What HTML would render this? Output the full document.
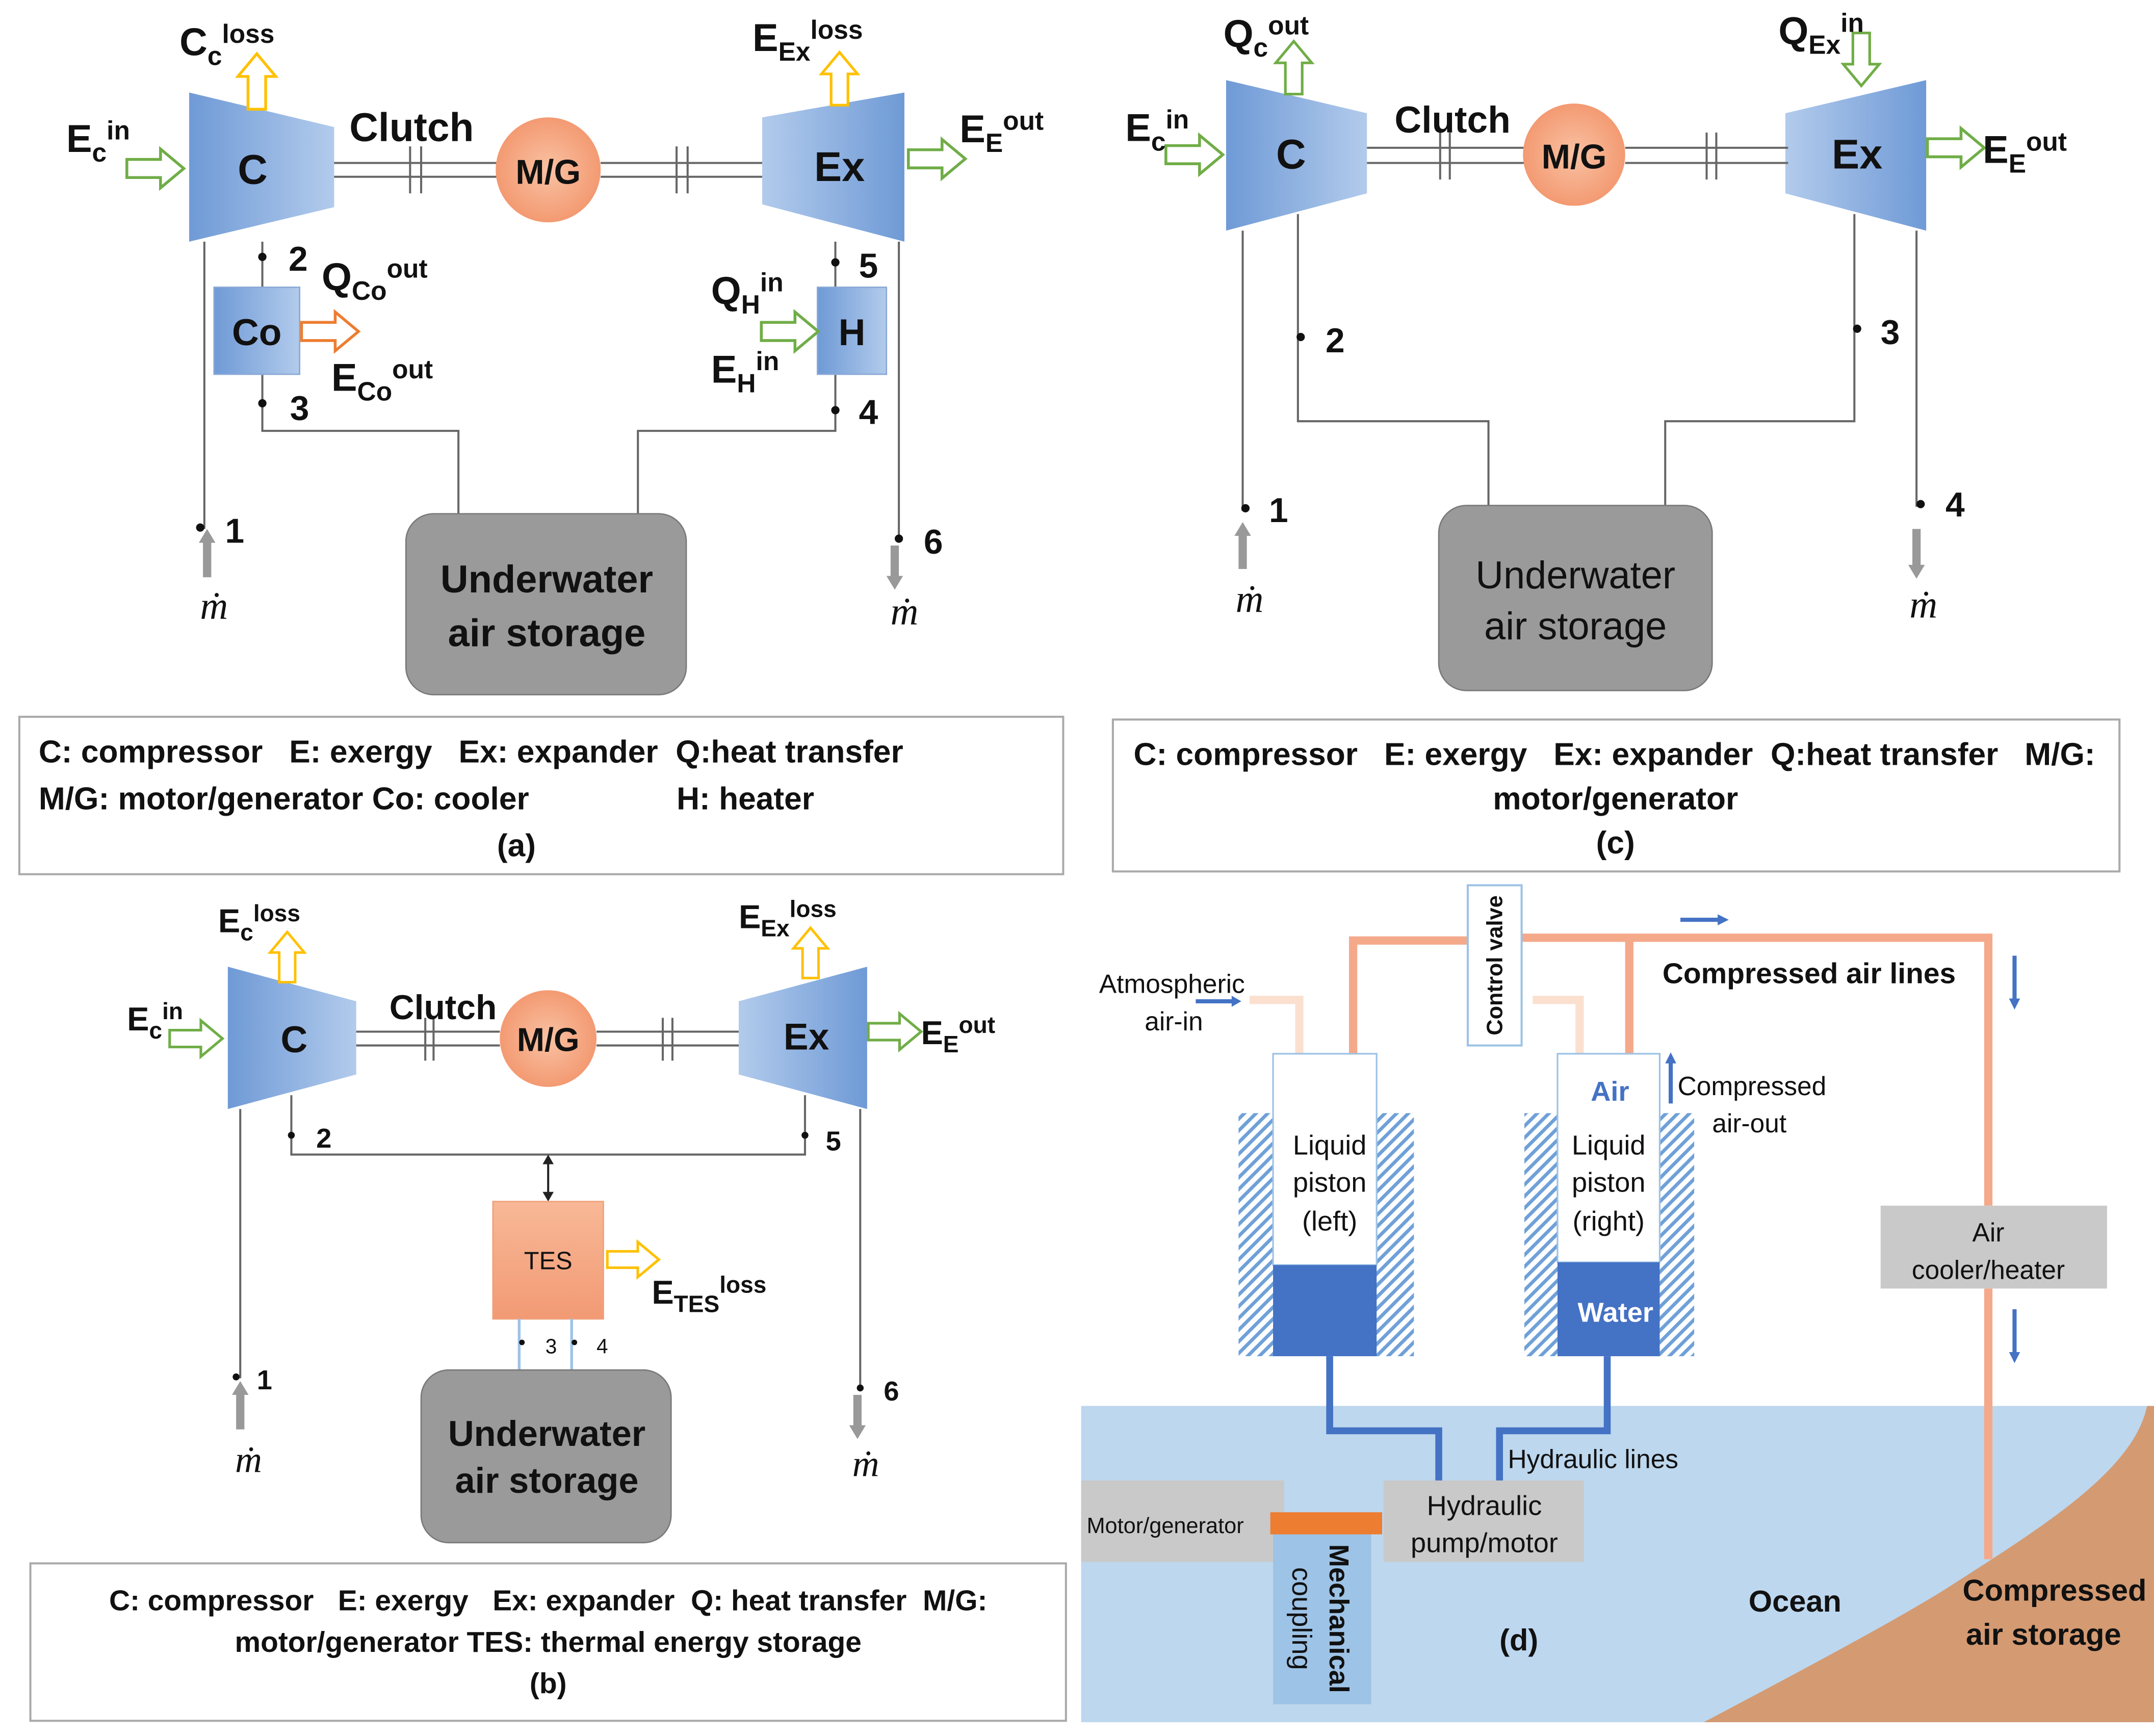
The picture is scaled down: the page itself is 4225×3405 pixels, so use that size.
<!DOCTYPE html>
<html><head><meta charset="utf-8"><style>
html,body{margin:0;padding:0;background:#fff}
svg{display:block}
text{font-family:"Liberation Sans",sans-serif;fill:#111;white-space:pre}
.b{font-weight:bold}
</style></head><body>
<svg width="4225" height="3405" viewBox="0 0 1560 1257" preserveAspectRatio="none" xmlns="http://www.w3.org/2000/svg">
<defs>
<linearGradient id="gb" x1="0" x2="1" y1="0" y2="0"><stop offset="0" stop-color="#6f9ad6"/><stop offset="1" stop-color="#b2cbec"/></linearGradient>
<linearGradient id="gb2" x1="1" x2="0" y1="0" y2="0"><stop offset="0" stop-color="#6f9ad6"/><stop offset="1" stop-color="#b2cbec"/></linearGradient>
<radialGradient id="go"><stop offset="0" stop-color="#f9c2a3"/><stop offset="1" stop-color="#f39a72"/></radialGradient>
<linearGradient id="gt" x1="0" x2="0" y1="0" y2="1"><stop offset="0" stop-color="#f8b896"/><stop offset="1" stop-color="#f29a74"/></linearGradient>
<pattern id="hatch" width="6" height="6" patternUnits="userSpaceOnUse" patternTransform="rotate(45)"><rect width="6" height="6" fill="#fff"/><rect width="2.5" height="6" fill="#6fa0d8"/></pattern>
<symbol id="ar" viewBox="0 -16 46 32" overflow="visible"><path d="M1,-7 H27 V-15 L45,0 L27,15 V7 H1 Z" fill="#fff" stroke-width="2.2"/></symbol>
</defs>

<!-- ============ PANEL A ============ -->
<g>
<polygon points="137,67 242,92 242,150 137,175" fill="url(#gb)"/>
<polygon points="552,85 655,67 655,175 552,148" fill="url(#gb2)"/>
<text x="183" y="133" font-size="30" class="b" text-anchor="middle">C</text>
<text x="608" y="131" font-size="30" class="b" text-anchor="middle">Ex</text>
<g stroke="#666" stroke-width="1.5" fill="none">
<line x1="242" y1="118" x2="360" y2="118"/><line x1="242" y1="128" x2="360" y2="128"/>
<line x1="435" y1="118" x2="552" y2="118"/><line x1="435" y1="128" x2="552" y2="128"/>
<line x1="297" y1="106" x2="297" y2="140"/><line x1="305" y1="106" x2="305" y2="140"/>
<line x1="490" y1="106" x2="490" y2="140"/><line x1="498" y1="106" x2="498" y2="140"/>
<polyline points="190,175 190,208"/><polyline points="190,271 190,312 332,312 332,372"/>
<line x1="148" y1="175" x2="148" y2="383"/>
<polyline points="605,175 605,208"/><polyline points="605,271 605,312 462,312 462,372"/>
<line x1="651" y1="175" x2="651" y2="392"/>
</g>
<circle cx="397" cy="123" r="38" fill="url(#go)"/>
<text x="397" y="133" font-size="25" class="b" text-anchor="middle">M/G</text>
<text x="253" y="102" font-size="29" class="b">Clutch</text>
<rect x="155" y="208" width="62" height="63" fill="url(#gb)" stroke="#8aa9d6"/>
<text x="186" y="250" font-size="27" class="b" text-anchor="middle">Co</text>
<rect x="592" y="208" width="50" height="63" fill="url(#gb)" stroke="#8aa9d6"/>
<text x="617" y="250" font-size="27" class="b" text-anchor="middle">H</text>
<use href="#ar" x="217" y="225" width="44" height="30" stroke="#ed7d31"/>
<use href="#ar" x="550" y="225" width="44" height="30" stroke="#70ad47"/>
<use href="#ar" x="90" y="107" width="45" height="30" stroke="#70ad47"/>
<use href="#ar" x="656" y="100" width="45" height="30" stroke="#70ad47"/>
<use href="#ar" x="0" y="0" width="42" height="30" stroke="#ffc000" transform="translate(171,80) rotate(-90)"/>
<use href="#ar" x="0" y="0" width="40" height="30" stroke="#ffc000" transform="translate(593,77) rotate(-90)"/>
<text x="130" y="40" font-size="28" class="b">C<tspan font-size="19" dy="7">c</tspan><tspan font-size="19" dy="-16">loss</tspan></text>
<text x="545" y="37" font-size="28" class="b">E<tspan font-size="19" dy="7">Ex</tspan><tspan font-size="19" dy="-16">loss</tspan></text>
<text x="48" y="110" font-size="28" class="b">E<tspan font-size="19" dy="7">c</tspan><tspan font-size="19" dy="-16">in</tspan></text>
<text x="695" y="103" font-size="28" class="b">E<tspan font-size="19" dy="7">E</tspan><tspan font-size="19" dy="-16">out</tspan></text>
<text x="233" y="210" font-size="28" class="b">Q<tspan font-size="19" dy="7">Co</tspan><tspan font-size="19" dy="-16">out</tspan></text>
<text x="240" y="283" font-size="28" class="b">E<tspan font-size="19" dy="7">Co</tspan><tspan font-size="19" dy="-16">out</tspan></text>
<text x="515" y="220" font-size="28" class="b">Q<tspan font-size="19" dy="7">H</tspan><tspan font-size="19" dy="-16">in</tspan></text>
<text x="515" y="277" font-size="28" class="b">E<tspan font-size="19" dy="7">H</tspan><tspan font-size="19" dy="-16">in</tspan></text>
<g fill="#111"><circle cx="190" cy="186" r="3"/><circle cx="190" cy="292" r="3"/><circle cx="145" cy="382" r="3"/><circle cx="605" cy="190" r="3"/><circle cx="605" cy="297" r="3"/><circle cx="651" cy="390" r="3"/></g>
<g font-size="25" class="b"><text x="209" y="196">2</text><text x="210" y="304">3</text><text x="163" y="393">1</text><text x="622" y="201">5</text><text x="622" y="307">4</text><text x="669" y="401">6</text></g>
<path d="M147,418 V393 H144 L150,383 L156,393 H153 V418 Z" fill="#999"/>
<path d="M645,395 V417 H642 L648,427 L654,417 H651 V395 Z" fill="#999"/>
<text x="155" y="448" font-size="28" font-style="italic" text-anchor="middle" style="font-family:'Liberation Serif',serif">ṁ</text>
<text x="655" y="452" font-size="28" font-style="italic" text-anchor="middle" style="font-family:'Liberation Serif',serif">ṁ</text>
<rect x="294" y="372" width="203" height="131" rx="20" fill="#9a9a9a" stroke="#7a7a7a"/>
<text x="396" y="429" font-size="28" class="b" text-anchor="middle">Underwater</text>
<text x="396" y="468" font-size="28" class="b" text-anchor="middle">air storage</text>
<rect x="14" y="519" width="756" height="114" fill="none" stroke="#aaa" stroke-width="1.5"/>
<g font-size="23" class="b"><text x="28" y="552">C: compressor   E: exergy   Ex: expander  Q:heat transfer</text>
<text x="28" y="586">M/G: motor/generator Co: cooler</text><text x="490" y="586">H: heater</text>
<text x="374" y="620" text-anchor="middle">(a)</text></g>
</g>

<!-- ============ PANEL C ============ -->
<g>
<polygon points="888,58 990,82 990,140 888,167" fill="url(#gb)"/>
<polygon points="1293,82 1395,58 1395,167 1293,140" fill="url(#gb2)"/>
<text x="935" y="122" font-size="30" class="b" text-anchor="middle">C</text>
<text x="1345" y="122" font-size="30" class="b" text-anchor="middle">Ex</text>
<g stroke="#666" stroke-width="1.5" fill="none">
<line x1="990" y1="107" x2="1105" y2="107"/><line x1="990" y1="118" x2="1105" y2="118"/>
<line x1="1177" y1="107" x2="1295" y2="107"/><line x1="1177" y1="118" x2="1295" y2="118"/>
<line x1="1043" y1="96" x2="1043" y2="130"/><line x1="1050" y1="96" x2="1050" y2="130"/>
<line x1="1236" y1="96" x2="1236" y2="130"/><line x1="1243" y1="96" x2="1243" y2="130"/>
<polyline points="940,155 940,305 1078,305 1078,367"/>
<line x1="900" y1="167" x2="900" y2="370"/>
<polyline points="1343,155 1343,305 1206,305 1206,367"/>
<line x1="1388" y1="167" x2="1388" y2="367"/>
</g>
<circle cx="1140" cy="112" r="37" fill="url(#go)"/>
<text x="1140" y="122" font-size="25" class="b" text-anchor="middle">M/G</text>
<text x="1010" y="96" font-size="27" class="b">Clutch</text>
<use href="#ar" x="843" y="97" width="44" height="30" stroke="#70ad47"/>
<use href="#ar" x="1395" y="92" width="43" height="30" stroke="#70ad47"/>
<use href="#ar" x="0" y="0" width="40" height="30" stroke="#70ad47" transform="translate(922,69) rotate(-90)"/>
<use href="#ar" x="0" y="0" width="40" height="30" stroke="#70ad47" transform="translate(1363,23) rotate(90)"/>
<text x="886" y="34" font-size="28" class="b">Q<tspan font-size="19" dy="7">c</tspan><tspan font-size="19" dy="-16">out</tspan></text>
<text x="1288" y="32" font-size="28" class="b">Q<tspan font-size="19" dy="7">Ex</tspan><tspan font-size="19" dy="-16">in</tspan></text>
<text x="815" y="102" font-size="28" class="b">E<tspan font-size="19" dy="7">c</tspan><tspan font-size="19" dy="-16">in</tspan></text>
<text x="1436" y="118" font-size="28" class="b">E<tspan font-size="19" dy="7">E</tspan><tspan font-size="19" dy="-16">out</tspan></text>
<g fill="#111"><circle cx="942" cy="244" r="3"/><circle cx="902" cy="368" r="3"/><circle cx="1345" cy="238" r="3"/><circle cx="1391" cy="365" r="3"/></g>
<g font-size="25" class="b"><text x="960" y="255">2</text><text x="919" y="378">1</text><text x="1362" y="249">3</text><text x="1409" y="374">4</text></g>
<path d="M897,412 V388 H894 L900,378 L906,388 H903 V412 Z" fill="#999"/>
<path d="M1385,383 V409 H1382 L1388,419 L1394,409 H1391 V383 Z" fill="#999"/>
<text x="905" y="443" font-size="28" font-style="italic" text-anchor="middle" style="font-family:'Liberation Serif',serif">ṁ</text>
<text x="1393" y="447" font-size="28" font-style="italic" text-anchor="middle" style="font-family:'Liberation Serif',serif">ṁ</text>
<rect x="1042" y="366" width="198" height="134" rx="20" fill="#9a9a9a" stroke="#7a7a7a"/>
<text x="1141" y="426" font-size="28" text-anchor="middle">Underwater</text>
<text x="1141" y="463" font-size="28" text-anchor="middle">air storage</text>
<rect x="806" y="521" width="729" height="110" fill="none" stroke="#aaa" stroke-width="1.5"/>
<g font-size="23" class="b"><text x="821" y="554">C: compressor   E: exergy   Ex: expander  Q:heat transfer   M/G:</text>
<text x="1170" y="586" text-anchor="middle">motor/generator</text>
<text x="1170" y="618" text-anchor="middle">(c)</text></g>
</g>

<!-- ============ PANEL B ============ -->
<g>
<polygon points="165,700 258,725 258,778 165,803" fill="url(#gb)"/>
<polygon points="535,725 628,700 628,803 535,778" fill="url(#gb2)"/>
<text x="213" y="762" font-size="27" class="b" text-anchor="middle">C</text>
<text x="584" y="760" font-size="27" class="b" text-anchor="middle">Ex</text>
<g stroke="#666" stroke-width="1.5" fill="none">
<line x1="258" y1="747" x2="362" y2="747"/><line x1="258" y1="757" x2="362" y2="757"/>
<line x1="432" y1="747" x2="535" y2="747"/><line x1="432" y1="757" x2="535" y2="757"/>
<line x1="308" y1="737" x2="308" y2="768"/><line x1="314" y1="737" x2="314" y2="768"/>
<line x1="480" y1="737" x2="480" y2="768"/><line x1="487" y1="737" x2="487" y2="768"/>
<polyline points="211,793 211,836 583,836 583,793"/>
<line x1="174" y1="803" x2="174" y2="998"/>
<line x1="623" y1="803" x2="623" y2="1005"/>
</g>
<line x1="397" y1="840" x2="397" y2="866" stroke="#222" stroke-width="1.5"/>
<path d="M393,843 L397,836 L401,843 Z M393,863 L397,870 L401,863 Z" fill="#222"/>
<circle cx="397" cy="752" r="35" fill="url(#go)"/>
<text x="397" y="761" font-size="24" class="b" text-anchor="middle">M/G</text>
<text x="282" y="738" font-size="25" class="b">Clutch</text>
<rect x="357" y="870" width="80" height="85" fill="url(#gt)" stroke="#f0a07a"/>
<text x="397" y="919" font-size="18" text-anchor="middle">TES</text>
<use href="#ar" x="439" y="898" width="39" height="28" stroke="#ffc000"/>
<use href="#ar" x="122" y="738" width="40" height="28" stroke="#70ad47"/>
<use href="#ar" x="628" y="733" width="40" height="28" stroke="#70ad47"/>
<use href="#ar" x="0" y="0" width="38" height="28" stroke="#ffc000" transform="translate(194,712) rotate(-90)"/>
<use href="#ar" x="0" y="0" width="38" height="28" stroke="#ffc000" transform="translate(573,709) rotate(-90)"/>
<text x="158" y="675" font-size="24" class="b">E<tspan font-size="17" dy="6">c</tspan><tspan font-size="17" dy="-14">loss</tspan></text>
<text x="535" y="672" font-size="24" class="b">E<tspan font-size="17" dy="6">Ex</tspan><tspan font-size="17" dy="-14">loss</tspan></text>
<text x="92" y="746" font-size="24" class="b">E<tspan font-size="17" dy="6">c</tspan><tspan font-size="17" dy="-14">in</tspan></text>
<text x="667" y="756" font-size="24" class="b">E<tspan font-size="17" dy="6">E</tspan><tspan font-size="17" dy="-14">out</tspan></text>
<text x="472" y="944" font-size="24" class="b">E<tspan font-size="17" dy="6">TES</tspan><tspan font-size="17" dy="-14">loss</tspan></text>
<g stroke="#9dc3e6" stroke-width="2"><line x1="376" y1="955" x2="376" y2="992"/><line x1="414" y1="955" x2="414" y2="992"/></g>
<g fill="#111"><circle cx="211" cy="822" r="2.5"/><circle cx="583" cy="822" r="2.5"/><circle cx="378" cy="972" r="2"/><circle cx="416" cy="972" r="2"/><circle cx="171" cy="997" r="2.5"/><circle cx="623" cy="1005" r="2.5"/></g>
<g font-size="20" class="b"><text x="229" y="831">2</text><text x="598" y="833">5</text><text x="186" y="1006">1</text><text x="640" y="1014">6</text></g>
<g font-size="15"><text x="395" y="980">3</text><text x="432" y="980">4</text></g>
<path d="M171,1035 V1010 H168 L174,1000 L180,1010 H177 V1035 Z" fill="#999"/>
<path d="M618,1010 V1032 H615 L621,1042 L627,1032 H624 V1010 Z" fill="#999"/>
<text x="180" y="1066" font-size="27" font-style="italic" text-anchor="middle" style="font-family:'Liberation Serif',serif">ṁ</text>
<text x="627" y="1069" font-size="27" font-style="italic" text-anchor="middle" style="font-family:'Liberation Serif',serif">ṁ</text>
<rect x="305" y="992" width="181" height="125" rx="20" fill="#9a9a9a" stroke="#7a7a7a"/>
<text x="396" y="1047" font-size="26" class="b" text-anchor="middle">Underwater</text>
<text x="396" y="1081" font-size="26" class="b" text-anchor="middle">air storage</text>
<rect x="22" y="1132" width="750" height="114" fill="none" stroke="#aaa" stroke-width="1.5"/>
<g font-size="21" class="b" text-anchor="middle"><text x="397" y="1166">C: compressor   E: exergy   Ex: expander  Q: heat transfer  M/G:</text>
<text x="397" y="1196">motor/generator TES: thermal energy storage</text>
<text x="397" y="1226">(b)</text></g>
</g>

<!-- ============ PANEL D ============ -->
<g>
<rect x="783" y="1018" width="777" height="229" fill="#bdd7ee"/>
<path d="M1234,1247 C1300,1212 1370,1175 1410,1150 C1480,1105 1545,1065 1555,1018 L1560,1018 L1560,1247 Z" fill="#d49a72"/>
<g stroke="#fbe0d0" stroke-width="6" fill="none">
<polyline points="905,724 941,724 941,763"/>
<polyline points="1110,724 1144,724 1144,763"/>
</g>
<g stroke="#f4a98a" stroke-width="6" fill="none">
<polyline points="980,763 980,681 1063,681"/>
<polyline points="1102,679 1440,679 1440,873"/>
<line x1="1440" y1="933" x2="1440" y2="1129"/>
<line x1="1180" y1="679" x2="1180" y2="763"/>
</g>
<rect x="1063" y="641" width="39" height="116" fill="#fff" stroke="#9dc3e6" stroke-width="1.5"/>
<text transform="translate(1088,699) rotate(-90)" font-size="16" class="b" text-anchor="middle">Control valve</text>
<rect x="897" y="806" width="127" height="176" fill="url(#hatch)"/>
<rect x="922" y="763" width="75" height="153" fill="#fff" stroke="#9dc3e6" stroke-width="1.2"/>
<rect x="922" y="916" width="75" height="66" fill="#4472c4"/>
<rect x="1104" y="806" width="123" height="176" fill="url(#hatch)"/>
<rect x="1128" y="763" width="74" height="151" fill="#fff" stroke="#9dc3e6" stroke-width="1.2"/>
<rect x="1128" y="914" width="74" height="68" fill="#4472c4"/>
<g font-size="20" text-anchor="middle"><text x="963" y="836">Liquid</text><text x="963" y="863">piston</text><text x="963" y="891">(left)</text>
<text x="1165" y="836">Liquid</text><text x="1165" y="863">piston</text><text x="1165" y="891">(right)</text></g>
<text x="1166" y="797" font-size="20" class="b" text-anchor="middle" style="fill:#4472c4">Air</text>
<text x="1170" y="957" font-size="20" class="b" text-anchor="middle" style="fill:#fff">Water</text>
<g stroke="#4472c4" stroke-width="5" fill="none">
<polyline points="963,982 963,1036 1042,1036 1042,1072"/>
<polyline points="1164,982 1164,1036 1086,1036 1086,1072"/>
</g>
<text x="1092" y="1063" font-size="19">Hydraulic lines</text>
<rect x="1002" y="1072" width="145" height="59" fill="#c9c9c9"/>
<text x="1075" y="1097" font-size="20" text-anchor="middle">Hydraulic</text>
<text x="1075" y="1124" font-size="20" text-anchor="middle">pump/motor</text>
<rect x="783" y="1072" width="147" height="59" fill="#c9c9c9"/>
<text x="787" y="1110" font-size="16">Motor/generator</text>
<rect x="922" y="1111" width="71" height="123" fill="#9dc3e6"/>
<rect x="920" y="1095" width="81" height="16" fill="#ed7d31"/>
<text transform="translate(963,1172) rotate(90)" font-size="20" class="b" text-anchor="middle">Mechanical</text>
<text transform="translate(936,1172) rotate(90)" font-size="20" text-anchor="middle">coupling</text>
<rect x="1362" y="873" width="164" height="60" fill="#c9c9c9"/>
<text x="1440" y="899" font-size="19" text-anchor="middle">Air</text>
<text x="1440" y="926" font-size="19" text-anchor="middle">cooler/heater</text>
<g stroke="#4472c4" stroke-width="3" fill="#4472c4">
<line x1="866" y1="725" x2="893" y2="725"/><path d="M892,721 L899,725 L892,729 Z" stroke="none"/>
<line x1="1217" y1="666" x2="1245" y2="666"/><path d="M1244,662 L1252,666 L1244,670 Z" stroke="none"/>
<line x1="1459" y1="692" x2="1459" y2="724"/><path d="M1455,723 L1459,731 L1463,723 Z" stroke="none"/>
<line x1="1459" y1="948" x2="1459" y2="980"/><path d="M1455,979 L1459,987 L1463,979 Z" stroke="none"/>
<line x1="1210" y1="799" x2="1210" y2="769"/><path d="M1206,770 L1210,762 L1214,770 Z" stroke="none"/>
</g>
<text x="796" y="719" font-size="19">Atmospheric</text>
<text x="829" y="746" font-size="19">air-in</text>
<text x="1204" y="712" font-size="21" class="b">Compressed air lines</text>
<text x="1215" y="793" font-size="19">Compressed</text>
<text x="1240" y="820" font-size="19">air-out</text>
<text x="1300" y="1167" font-size="22" class="b" text-anchor="middle">Ocean</text>
<text x="1100" y="1195" font-size="22" class="b" text-anchor="middle">(d)</text>
<text x="1488" y="1159" font-size="22" class="b" text-anchor="middle">Compressed</text>
<text x="1480" y="1191" font-size="22" class="b" text-anchor="middle">air storage</text>
</g>
</svg>
</body></html>
